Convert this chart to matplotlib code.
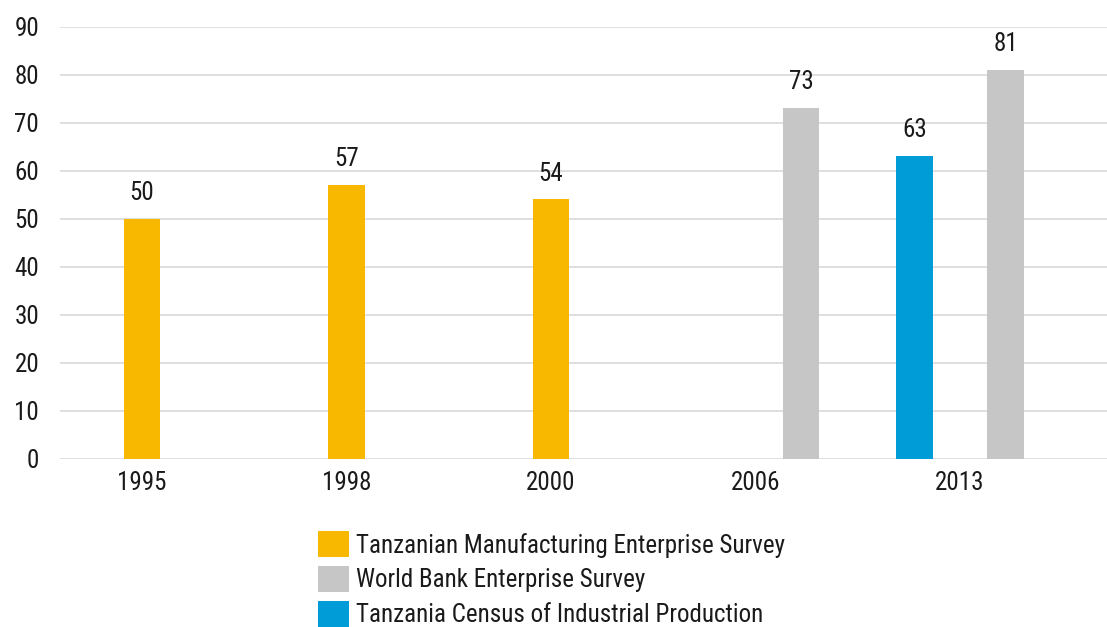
import numpy as np
import matplotlib
matplotlib.use("Agg")
import matplotlib.pyplot as plt
from matplotlib.patches import Patch

# Survey years and the share reported by each source
years = ["1995", "1998", "2000", "2006", "2013"]
tmes = [50, 57, 54, np.nan, np.nan]          # Tanzanian Manufacturing Enterprise Survey
wbes = [np.nan, np.nan, np.nan, 73, 81]      # World Bank Enterprise Survey
census = [np.nan, np.nan, np.nan, np.nan, 63]  # Tanzania Census of Industrial Production

series_names = [
    "Tanzanian Manufacturing Enterprise Survey",
    "World Bank Enterprise Survey",
    "Tanzania Census of Industrial Production",
]
colors = ["#F9B800", "#C6C6C6", "#009CD8"]

plt.rcParams["font.family"] = ["Liberation Sans Narrow", "Roboto Condensed", "DejaVu Sans"]
text_color = "#1a1a1a"
fs = 18

fig = plt.figure(figsize=(11.07, 6.27), dpi=100)
ax = fig.add_axes([60 / 1107, 1 - 458.7 / 627, 1 - 60 / 1107, (458.7 - 26.7) / 627])

x = np.arange(len(years))
width = 0.178
offset = 0.223

bars_t = ax.bar(x, tmes, width, color=colors[0], label=series_names[0], zorder=2)
bars_w = ax.bar(x + offset, wbes, width, color=colors[1], label=series_names[1], zorder=2)
bars_c = ax.bar(x - offset, census, width, color=colors[2], label=series_names[2], zorder=2)

for bars, vals in ((bars_t, tmes), (bars_w, wbes), (bars_c, census)):
    labels = ["" if np.isnan(v) else f"{v:.0f}" for v in vals]
    ax.bar_label(bars, labels=labels, padding=10, fontsize=fs, color=text_color)

ax.set_ylim(0, 90)
ax.set_yticks(range(0, 91, 10))
ax.set_xlim((60 - 142) / 204.5, (1107 - 142) / 204.5)
ax.set_xticks(x)
ax.set_xticklabels(years)

ax.grid(axis="y", color="#D9D9D9", linewidth=1.2, zorder=0)
ax.set_axisbelow(True)
for s in ax.spines.values():
    s.set_visible(False)
ax.tick_params(axis="both", length=0, labelsize=fs, colors=text_color)
ax.tick_params(axis="y", pad=15)
ax.tick_params(axis="x", pad=9)

handles = [Patch(facecolor=c, edgecolor="none") for c in colors]
fig.legend(
    handles, series_names,
    loc="upper left", bbox_to_anchor=(318 / 1107, 1 - 531 / 627),
    frameon=False, fontsize=fs, labelcolor=text_color,
    handlelength=1.25, handleheight=1.25, handletextpad=0.25,
    labelspacing=0.33, borderpad=0, borderaxespad=0,
)

fig.savefig("out.png", dpi=100)
